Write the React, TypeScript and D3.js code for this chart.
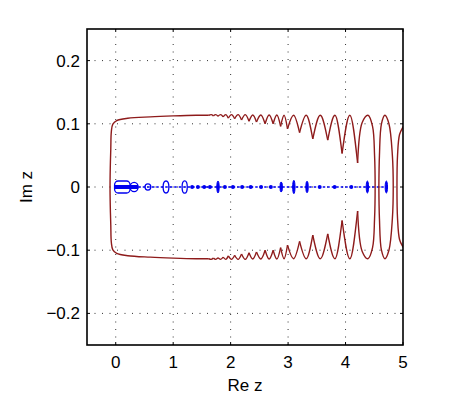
import React from 'react';
import * as d3 from 'd3';

// axis ticks
const reTicks = [0, 1, 2, 3, 4, 5];
const imTicks = [-0.2, -0.1, 0, 0.1, 0.2];

// red contour, upper half (the lower half is its mirror image)
const leftRe = [-0.099, -0.095, -0.086, -0.076, -0.05, 0.017, 0.21, 0.6, 1.0, 1.4, 1.62];
const leftIm = [0, 0.03, 0.06, 0.088, 0.0995, 0.105, 0.1087, 0.111, 0.1125, 0.1135, 0.1135];

const cuspRe = [1.62, 1.70, 1.78, 1.87, 1.96, 2.07, 2.19, 2.32, 2.45, 2.60, 2.74, 2.87, 2.99, 3.20, 3.43, 3.69, 3.94, 4.21];
const cuspIm = [0.1135, 0.1125, 0.112, 0.111, 0.109, 0.108, 0.106, 0.104, 0.103, 0.100, 0.100, 0.096, 0.092, 0.086, 0.076, 0.074, 0.053, 0.038];
const peakRe = [1.66, 1.74, 1.825, 1.915, 2.015, 2.13, 2.255, 2.385, 2.525, 2.67, 2.805, 2.93, 3.095, 3.315, 3.56, 3.815, 4.075];
const peakIm = [0.1145, 0.1145, 0.1145, 0.1145, 0.1145, 0.1145, 0.1145, 0.114, 0.114, 0.114, 0.114, 0.1135, 0.1135, 0.1135, 0.1135, 0.1135, 0.1135];

const closeRe = [4.21, 4.29, 4.39, 4.47, 4.505, 4.515];
const closeIm = [0.038, 0.102, 0.1135, 0.096, 0.05, 0];

const ovalRe = [4.58, 4.59, 4.625, 4.685, 4.755, 4.815, 4.83];
const ovalIm = [0, 0.05, 0.1, 0.1135, 0.1, 0.05, 0];

const edgeRe = [4.895, 4.905, 4.94, 5.0, 5.06];
const edgeIm = [0, 0.05, 0.083, 0.095, 0.104];

// blue contour pieces along the real axis
const lobeRe = [-0.02, 0.25, 0.39];
const lobeIm = [0.0095, 0.0072];
const ringRe = [0.56, 0.875, 1.2];
const ringHalfRe = [0.05, 0.05, 0.045];
const ringHalfIm = [0.0048, 0.0095, 0.0098];
const spindleRe = [1.78, 2.88, 3.10, 3.33, 4.38, 4.71];
const spindleIm = [0.0095, 0.008, 0.0105, 0.009, 0.0095, 0.0095];
const dotRe = [1.33, 1.43, 1.54, 1.64, 1.90, 2.04, 2.20, 2.35, 2.53, 2.70, 3.55, 3.81, 4.10];
const axisLineRe = [0, 4.72];

const W = 474;
const H = 395;
const m = { left: 87, right: 403, top: 29, bottom: 345 };
const red = '#8e1b1b';
const blue = '#0000f0';
const font = '"Liberation Sans", Arial, Helvetica, sans-serif';

type P = [number, number];

const zip = (re: number[], im: number[]): P[] => re.map((r, i) => [r, im[i]] as P);
const mirror = (pts: P[]): P[] => pts.map(([r, i]) => [r, -i] as P);

export default function App() {
  const x = d3.scaleLinear().domain([-0.5, 5]).range([m.left, m.right]);
  const y = d3.scaleLinear().domain([-0.25, 0.25]).range([m.bottom, m.top]);

  const line = d3.line<P>().x(d => x(d[0])).y(d => y(d[1]));
  const smooth = line.curve(d3.curveCatmullRom.alpha(0.5));
  const arch = d3.line<P>().x(d => x(d[0])).y(d => y(d[1])).curve(d3.curveMonotoneX);

  const redPaths: string[] = [];

  // left end: lower half back to the rounded left side, then upper half
  const left = zip(leftRe, leftIm);
  redPaths.push(smooth([...mirror(left).reverse(), ...left.slice(1)]) as string);

  // scalloped arches between cusps
  for (let k = 0; k < peakRe.length; k++) {
    const pts: P[] = [[cuspRe[k], cuspIm[k]], [peakRe[k], peakIm[k]], [cuspRe[k + 1], cuspIm[k + 1]]];
    redPaths.push(arch(pts) as string);
    redPaths.push(arch(mirror(pts)) as string);
  }

  // the right end of the main loop
  const close = zip(closeRe, closeIm);
  redPaths.push(smooth([...close, ...mirror(close).reverse().slice(1)]) as string);

  // separate oval
  const oval = zip(ovalRe, ovalIm);
  redPaths.push(smooth([...oval, ...mirror(oval).reverse().slice(1)]) as string);

  // piece cut by the right edge
  const edge = zip(edgeRe, edgeIm);
  redPaths.push(smooth([...mirror(edge).reverse(), ...edge.slice(1)]) as string);

  const px = (d: number) => x(d) - x(0);
  const py = (d: number) => y(0) - y(d);

  return (
    <svg width={W} height={H} style={{ position: 'absolute', left: 0, top: 0, background: '#fff' }}>
      <defs>
        <clipPath id="plot">
          <rect x={m.left} y={m.top} width={m.right - m.left} height={m.bottom - m.top} />
        </clipPath>
      </defs>
      <rect x={0} y={0} width={W} height={H} fill="#fff" />

      {/* dotted grid */}
      <g stroke="#333" strokeWidth={1} strokeDasharray="1,6.5">
        {reTicks.filter(t => t < 5).map(t => (
          <line key={'gx' + t} x1={x(t)} x2={x(t)} y1={m.top} y2={m.bottom} />
        ))}
        {imTicks.map(t => (
          <line key={'gy' + t} x1={m.left} x2={m.right} y1={y(t)} y2={y(t)} />
        ))}
      </g>

      <g clipPath="url(#plot)">
        {/* blue pieces */}
        <line x1={x(axisLineRe[0])} x2={x(axisLineRe[1])} y1={y(0)} y2={y(0)}
          stroke={blue} strokeWidth={1.3} strokeDasharray="2.5,2" />
        <rect x={x(lobeRe[0])} y={y(lobeIm[0])} width={x(lobeRe[1]) - x(lobeRe[0])}
          height={y(-lobeIm[0]) - y(lobeIm[0])} rx={3.5} ry={4}
          fill="none" stroke={blue} strokeWidth={1.3} />
        <ellipse cx={(x(lobeRe[1]) + x(lobeRe[2])) / 2} cy={y(0)}
          rx={(x(lobeRe[2]) - x(lobeRe[1])) / 2} ry={py(lobeIm[1])}
          fill="none" stroke={blue} strokeWidth={1.3} />
        <rect x={x(lobeRe[0])} y={y(0) - 2} width={x(lobeRe[2]) - x(lobeRe[0])} height={4} fill={blue} />
        {ringRe.map((r, i) => (
          <ellipse key={'ring' + i} cx={x(r)} cy={y(0)} rx={px(ringHalfRe[i])} ry={py(ringHalfIm[i])}
            fill="none" stroke={blue} strokeWidth={1.3} />
        ))}
        {spindleRe.map((r, i) => (
          <ellipse key={'sp' + i} cx={x(r)} cy={y(0)} rx={1.2} ry={py(spindleIm[i])}
            fill={blue} stroke={blue} strokeWidth={1} />
        ))}
        {dotRe.map((r, i) => (
          <circle key={'dot' + i} cx={x(r)} cy={y(0)} r={2} fill={blue} />
        ))}

        {/* red contour */}
        {redPaths.map((d, i) => (
          <path key={'red' + i} d={d} fill="none" stroke={red} strokeWidth={1.4} strokeLinejoin="round" />
        ))}
      </g>

      {/* ticks */}
      <g stroke="#000" strokeWidth={1}>
        {reTicks.map(t => (
          <g key={'tx' + t}>
            <line x1={x(t)} x2={x(t)} y1={m.bottom} y2={m.bottom - 3} />
            <line x1={x(t)} x2={x(t)} y1={m.top} y2={m.top + 3} />
          </g>
        ))}
        {imTicks.map(t => (
          <g key={'ty' + t}>
            <line x1={m.left} x2={m.left + 3} y1={y(t)} y2={y(t)} />
            <line x1={m.right} x2={m.right - 3} y1={y(t)} y2={y(t)} />
          </g>
        ))}
      </g>

      {/* box */}
      <rect x={m.left} y={m.top} width={m.right - m.left} height={m.bottom - m.top}
        fill="none" stroke="#000" strokeWidth={1.6} />

      {/* tick labels */}
      <g fontFamily={font} fontSize={17} fill="#000">
        {reTicks.map(t => (
          <text key={'lx' + t} x={x(t)} y={368} textAnchor="middle">{String(t)}</text>
        ))}
        {imTicks.map(t => (
          <text key={'ly' + t} x={80} y={y(t) + 6} textAnchor="end">
            {t === 0 ? '0' : (t < 0 ? '\u2212' : '') + Math.abs(t).toString()}
          </text>
        ))}
        <text x={(m.left + m.right) / 2} y={391} textAnchor="middle">Re z</text>
        <text transform={`translate(32, ${y(0)}) rotate(-90)`} textAnchor="middle">Im z</text>
      </g>
    </svg>
  );
}
